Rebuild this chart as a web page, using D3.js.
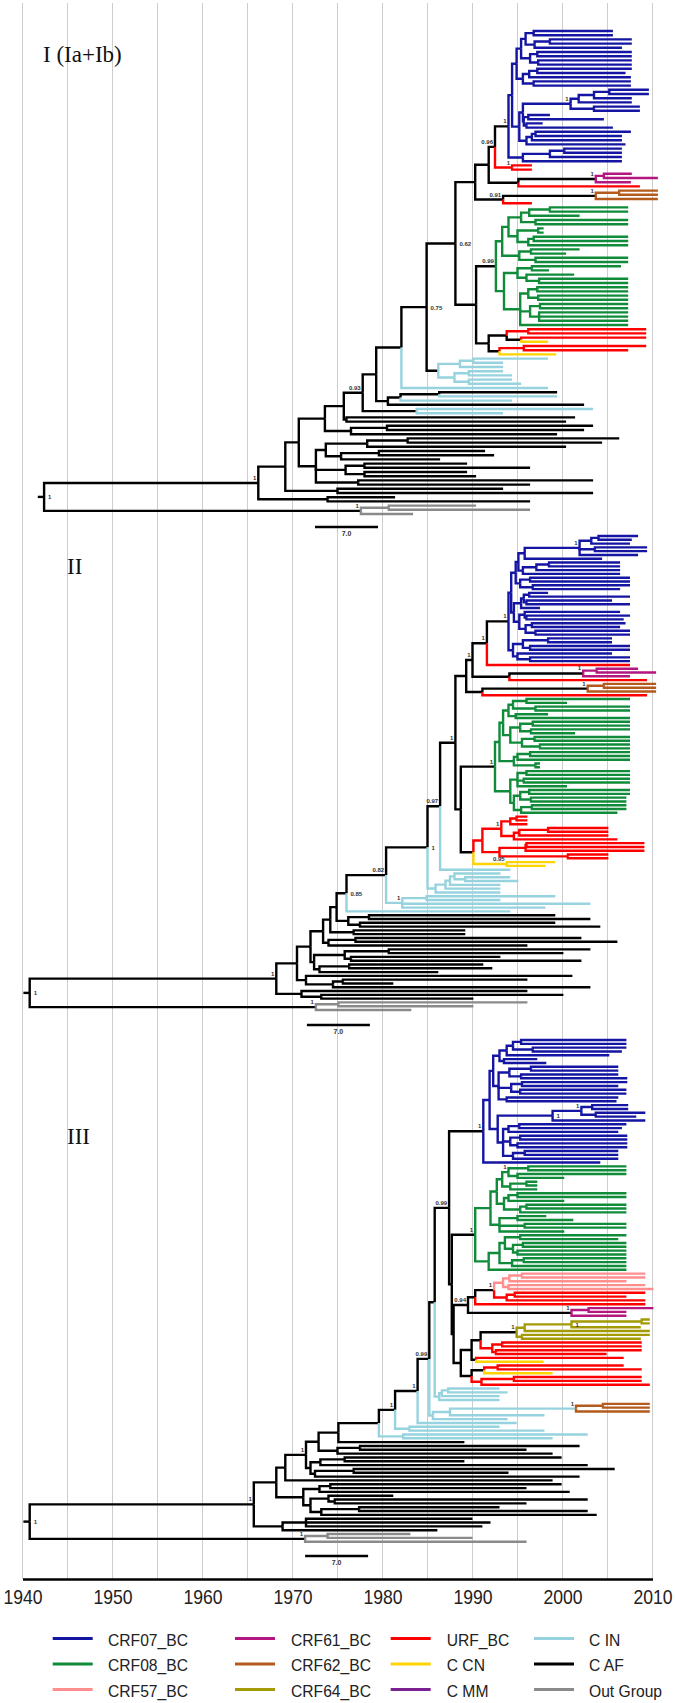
<!DOCTYPE html>
<html><head><meta charset="utf-8">
<script src="https://cdn.jsdelivr.net/npm/d3@7"></script>
<style>body{margin:0;background:#fff}svg{display:block}</style>
</head><body>
<svg id="chart" width="675" height="1703"></svg>
<script>
// ---------------- DATA ----------------
// Axis / grid
const tickYears = [1940, 1950, 1960, 1970, 1980, 1990, 2000, 2010];
const gridYears = [1940, 1945, 1950, 1955, 1960, 1965, 1970, 1975, 1980, 1985, 1990, 1995, 2000, 2005, 2010];

// Legend
const legendNames = ["CRF07_BC", "CRF08_BC", "CRF57_BC", "CRF61_BC", "CRF62_BC", "CRF64_BC", "URF_BC", "C CN", "C MM", "C IN", "C AF", "Out Group"];
const legendCodes = ["b", "g", "p", "m", "o", "y", "r", "c", "v", "i", "k", "x"];
const legendColors = ["#1515a3", "#0f8b3a", "#ff8f8f", "#b3177f", "#b35a1c", "#a39a06", "#ff0000", "#ffd400", "#7b2090", "#96d3de", "#000000", "#8a8a8a"];

// Trees: leaf = <group code><tip year>, internal = (children)<node year>
// [s] support label left, {s} support label right, ^c stem colour, :c node colour
// ---- Panel I ----
const I_A1 = "((b2005.6,b2005.6)1996.8,((b2007.7,b2007.7)1998.6,b2006.6)1996.9)1995.9";
const I_A2 = "((b2007.7,b2007.7)1997.2,(b2007.7,b2007.7)1997.3)1996.4";
const I_A3 = "(((b2007.7,b2007.0)1997.2,b2007.6)1996.3,(b2007.6,b2007.6)1996.8)1995.6";
const I_B1 = "((((b2009.6,b2009.6)2005.2,b2007.7)2003.5,b2007.7)2001.8,(b2008.6,b2008.6)2003.5)2000.9[1]";
const I_B2 = "((b1998.6,b2004.6)1996.2,(b1997.8,b2005.6)1996.0)1995.7";
const I_C1 = "(((b2007.6,b2006.6)1997.0,b2006.6)1996.6,b2007.0)1996.0";
const I_C2 = "(((b2006.6,b2006.6)2000.2,b2006.6)1998.6,b2006.6)1995.6";
const BLUE_I = `((((${I_A1},${I_A2})1995.4,${I_A3})1994.9,((${I_B1},${I_B2})1995.6,${I_C1})1995.2)1994.4,${I_C2})1994.0[1]^k`;
const I_G1 = "(((g2007.3,g2007.3)1998.6,g2001.9)1996.3,(g2007.3,g2007.3)1997.0)1995.4";
const I_G2 = "((g1997.9,g1997.9)1997.3,((g2007.3,g2007.3)1996.8,g2007.3)1996.2)1995.0";
const I_G3 = "((g2001.9,g2000.4)1996.5,(g2007.3,g2007.3)1997.0)1995.2";
const I_G4 = "((g2006.5,g1998.5)1996.6,(g2001.3,(g2007.3,g2007.3)1997.4)1996.0)1995.0";
const I_G5 = "(((g2007.3,g2007.3)1997.2,(g2007.3,g2007.3)1997.3)1996.2,((g2007.3,g2007.3)1997.5,(g2007.3,g2007.3,g2007.3)1997.4)1996.4,g2007.3)1995.3";
const GREEN_I = `(((${I_G1},${I_G2})1994.0,${I_G3})1993.3,(${I_G4},${I_G5})1993.5)1992.6[0.99]^k`;
const RY_I = "(((r2009.3,r2009.3)1996.2,(r2009.3,c1998.4)1995.4)1993.8,((r2009.3,r2007.3)1995.7,c1999.3)1993.0)1991.8";
const CIN_I = "(((i1998.4,i1993.4)1990.1,i1993.4)1988.6,((i1993.4,i1994.4)1989.6,(i1994.4,i1995.4)1989.6)1988.0)1986.2^k";
const I_top = `((((${BLUE_I},(r1996.6,r1996.6)1994.4[1])1992.5[0.96],(((m2007.7,m2010.6)2004.6,m2007.6)2003.7[1]^k,r2008.6)1995.1)1991.8,(((o2010.6,o2010.6)2006.3,o2010.6)2003.7[1]^k,r1996.6)1993.4[0.91])1990.3,(${GREEN_I},${RY_I})1990.4)1988.1{0.62}`;
const I_mid = `((((${I_top},${CIN_I})1984.9{0.75},i1998.4)1982.1,(((k1999.4,i1999.4)1986.3,i1994.4)1982.0,k2002.4)1980.6)1979.3,(i2003.4,i1993.4)1983.8^k)1977.8[0.93]`;
const I_low = "((((k2006.3,k2004.4)1982.8,k2000.4)1978.3,((k1991.4,k1992.4)1979.6,k1986.4)1975.4)1973.7,((k1989.4,k1996.4)1978.0,(k1989.4,k1990.4)1978.0)1975.9,(k2003.4,k1996.4)1977.3)1972.6";
const TREE_I = `((((((${I_mid},(k2001.4,k2000.4)1976.0)1975.7,((k2003.4,k2002.4)1980.5,k1999.4)1976.5)1973.6,${I_low})1970.7,(k1993.4,k2003.4)1975.0)1969.2,(k1981.4,k1996.4)1973.9)1966.2[1],((x1990.4,x1996.4)1980.7,x1983.4)1977.6[1]^k)1942.4{1}`;

// ---- Panel II ----
const II_T1 = "((((b2008.4,b2007.7)2004.0,b2007.5)2003.2,(b2009.4,b2009.4)2003.6,b2008.4)2001.9[1],b2004.4)1995.8";
const II_T2 = "(((b2006.4,b2006.4)1998.5,b2006.4)1997.1,b2006.4)1995.6";
const II_T3 = "((b2007.5,b2007.5)1996.4,(b2007.5,b2006.4)1996.7)1995.3";
const II_T4 = "(((b1998.4,b2007.5)1996.3,(b2005.5,b2007.5)1996.0)1995.7,b1997.5)1995.4";
const II_T5 = "((b2006.4,(b2007.5,b2006.8)1996.0)1995.8,((b2007.0,b2006.4)1996.6,(b2007.5,b2007.5)1997.0)1995.9)1995.2";
const II_T6 = "(((b2005.5,b2005.5)1998.4,(b2007.5,b2007.5)1996.4)1995.6,(b2005.5,(b2007.5,b2007.5)1996.4)1995.0)1994.5";
const BLUE_II = `((((${II_T1},${II_T2})1995.1,${II_T3})1994.8,(${II_T4},${II_T5})1994.6)1994.3,${II_T6})1994.0[1]^k`;
const II_H1 = "(((g2007.5,g2000.5)1996.0,(g2007.5,g2007.5)1997.0)1994.5,(g1998.4,g2007.5)1994.8)1994.0";
const II_H2 = "(((g2007.5,g2007.5)1996.7,(g2007.5,g2001.4)1996.5)1995.3,((g2007.5,g2007.5)1996.9,(g2007.5,g2007.5)1997.5)1995.5)1994.2";
const II_H3 = "(((g2007.5,g2007.5)1996.4,g2007.5)1995.0,(g1997.5,g1997.5)1997.0)1994.6";
const II_H4 = "((g2007.5,g2007.5)1996.0,(g2007.5,g2007.5)1995.7,g2000.5)1995.0";
const II_H5 = "(((g2007.5,g2007.5)1996.3,(g2007.1,g2007.1)1996.5)1995.3,((g2007.1,g2007.1)1996.6,g2006.1)1995.4)1994.6";
const GREEN_II = `(((${II_H1},${II_H2})1993.4,${II_H3})1993.0,(${II_H4},${II_H5})1994.2)1992.5[1]^k`;
const II_RU = "(((r1996.1,r1996.1)1994.9,r1996.1)1994.2,(((r2005.1,r2005.1)1998.4,r2005.1)1995.2,r2006.1)1994.6)1993.2[1]";
const II_RL = "(((r2009.1,r2009.1)1996.0,r2009.1)1995.9,(r2005.1,r2005.1)2000.6)1993.0";
const CIN_IIa = "((((i1993.1,(i1994.2,i1995.1)1989.2)1988.0,i1993.1)1987.5,i1993.1)1987.0,i1993.1)1985.9";
const CIN_IIb = "((i1999.2,i1993.1)1984.9,i2003.1,i1998.1)1982.2[1]";
const II_top = `((((${BLUE_II},r2007.5)1991.6[1],(((m2008.4,m2010.4)2003.8,m2007.5)2002.3[1]^k,r2009.4)1994.1)1990.0[1],(((o2010.4,o2010.4)2004.6,o2010.4)2002.8[1]^k,r2009.4)1991.1)1989.3,(${GREEN_II},((${II_RU},${II_RL})1991.1,(c1999.2,c1998.1)1993.8[0.95])1990.1)1988.7)1988.1[1]`;
const II_mid = `((((${II_top},i1994.2)1986.4[0.97],${CIN_IIa})1985.0{1},${CIN_IIb})1980.4[0.82],i1994.2)1976.0{0.85}`;
const II_n735 = "(((k2003.1,k2000.1)1980.7,(k1993.1,k2002.1)1976.5)1975.8,((k1991.2,k1992.2)1976.3,k1986.2)1973.0)1972.4";
const II_Q6 = "(k2001.1,((k1996.1,k1981.2)1975.6,k2003.1)1974.5)1971.5";
const II_Q7 = "(k1996.1,(k2000.1,k1990.1)1973.2)1971.0";
const TREE_II = `(((((((${II_mid},((k1999.2,k2003.1)1978.5,(k1999.2,k2004.2)1977.5)1976.2)1974.9,(k1989.2,k1989.2)1976.8)1974.2,((k2002.1,k2006.1)1977.0,k1996.1)1974.0)1973.4,${II_n735})1972.0,${II_Q6})1970.5,${II_Q7})1968.2[1],((x1996.1,x1990.1)1975.1,x1983.2)1972.6[1]^k)1940.8{1}`;

// ---- Panel III ----
const III_U1 = "((((b2007.1,b2007.1)1995.4,(b2007.1,b2006.6)1996.7)1994.5,b2005.2)1993.8,(b1997.2,b1998.2)1993.5)1993.0";
const III_U2 = "(((b2006.2,b2006.2)1996.5,(b2006.2,b2007.2)1995.4)1994.1,((b2007.2,b2006.2)1995.5,(b2007.1,b2007.1)1995.3)1994.3,(b2006.2,b2006.0)1993.8)1992.9";
const III_U3 = "(((b2007.3,b2007.3)2003.3,(b2009.2,b2008.2)2003.7)2002.1[1],b2009.2)1998.9{1}";
const III_U4 = "(((b2007.1,b2006.6)1995.2,b2006.2)1994.0,((b2007.2,b2007.2)1995.3,(b2007.2,b2007.2)1995.0)1994.2,((b2006.2,b2006.2)1995.8,b2006.2)1994.5)1993.4";
const BLUE_III = `(((${III_U1},${III_U2})1992.3,(${III_U3},${III_U4})1992.8)1991.9,b2004.2)1991.2[1]^k`;
const III_V1 = "(((g2007.1,g2007.1)1996.2,(g2007.1,g2000.2)1995.0)1994.0[1],((g1997.2,g1997.2)1996.0,g1997.2)1994.2)1993.3";
const III_V2 = "(((g2007.1,g2007.1)1995.0,g2000.2)1994.0,((g2007.1,g2007.1)1996.0,g2007.1)1995.3)1993.5";
const III_V3 = "((g1998.2,g2001.2)1995.0,(g2007.1,g2007.1)1995.8,g2000.2)1993.0";
const III_V4 = "((((g2007.1,g2006.2)1995.3,((g2007.1,g2007.1)1995.6,(g2007.1,g2007.1)1995.0)1994.5)1993.6,((g2007.1,g2007.1)1995.7,g2007.1)1994.4)1993.0,g2007.1)1991.8";
const GREEN_III = `(((${III_V1},${III_V2})1992.7,${III_V3})1992.0,${III_V4})1990.3[1]^k`;
const PINK_III = "(((p2009.2,p2009.2)1995.5,p2007.1)1994.1,(p2009.2,p2010.1)1994.0)1993.4";
const OLIVE_III = "((((y2009.7,y2009.7)2008.8,y2008.7)2001.0{1},y2009.7)1995.8,(y2009.7,y2008.7)1995.5)1994.9[1]^k";
const III_n205 = `(((${PINK_III},((r2009.2,r2007.1)1994.7,r2009.2)1993.8)1992.4[1],r2009.2)1990.3,((m2010.1,m2007.1)2002.9,m2007.1)2001.0[1]^k)1989.5[0.94]`;
const III_RY = `(((${OLIVE_III},((r2008.8,r2008.8)1993.3,(r2008.8,r2004.9)1992.6)1992.2)1990.9,(r2006.8,c1997.9)1990.4)1989.9,(((r2006.8,r2008.8)1992.8,c1998.9)1991.3,((r2008.8,r2008.8)1994.6,r2009.7)1991.0)1989.9)1988.7`;
const CIN_IIItop = "(((i1993.0,i1993.9)1987.3,i1993.0)1986.6,i1993.0)1986.3";
const CIN_IIImid = "((((o2009.7,o2009.7)2004.5,o2009.7)2001.5[1]^i,i1998.0)1987.5:i,i1993.9)1985.6:i";
const III_top = `(((${BLUE_III},(${GREEN_III},(${III_n205},${III_RY})1987.9)1987.7)1987.4[0.99],${CIN_IIItop})1985.8,${CIN_IIImid})1985.2[0.99]`;
const III_K2 = "(((k1999.9,k1989.1)1975.8,k2002.8)1973.1,((k2005.8,k1994.0)1976.8,k2001.9)1972.5)1972.0";
const III_K3 = "(((k1999.9,k1996.0)1974.2,k2000.8)1973.0,((k1981.2,(k2002.8,k1996.0)1974.7)1974.0,((k1993.0,k2002.8)1977.4,k2003.8)1973.2)1972.0)1971.2";
const TREE_III = `((((((((((${III_top},i1994.9)1983.9[1],(i1993.0,i1998.0)1983.0)1981.4[1],(i2002.8,i1998.9)1982.3)1979.6,k1989.1)1975.1,((k2001.9,k1996.0)1977.5,k1998.9)1975.0)1972.9,${III_K2})1971.5[1],k1998.9)1969.2,${III_K3})1968.2,((k1990.0,k1992.0,k1991.1)1971.5,k1986.1)1968.9)1965.7[1],((x1983.1,x1990.0)1973.9,x1996.0)1971.4[1]^k)1940.8{1}`;

// Panel meta (root stem origin year, scale-bar start year)
const panelTrees = [TREE_I, TREE_II, TREE_III];
const panelTitles = ["I (Ia+Ib)", "II", "III"];
const rootOrigins = [1941.7, 1940.1, 1940.1];
const scaleBarStart = [1972.5, 1971.6, 1971.4];
const scaleBarLength = 7.0;

// ---------------- LAYOUT ----------------
const layout = [
  {top: 31, bottom: 514, titleX: 43, titleY: 62, barY: 527},
  {top: 536, bottom: 1010, titleX: 67, titleY: 574, barY: 1025},
  {top: 1040, bottom: 1541.7, titleX: 67, titleY: 1144, barY: 1556}
];
const color = {};
legendCodes.forEach((c, i) => color[c] = legendColors[i]);

function parseTree(src) {
  const s = src.replace(/\s+/g, "");
  let i = 0;
  function num() { const st = i; while (i < s.length && /[0-9.]/.test(s[i])) i++; return +s.slice(st, i); }
  function node() {
    const n = {};
    if (s[i] === "(") {
      i++; n.children = [node()];
      while (s[i] === ",") { i++; n.children.push(node()); }
      i++; n.year = num();
    } else { n.code = s[i]; i++; n.year = num(); }
    while (i < s.length && "[{^:".includes(s[i])) {
      const c = s[i];
      if (c === "[" || c === "{") {
        const e = s.indexOf(c === "[" ? "]" : "}", i);
        n.label = s.slice(i + 1, e); n.labelRight = (c === "{"); i = e + 1;
      } else if (c === "^") { n.stem = s[i + 1]; i += 2; }
      else { n.code = s[i + 1]; i += 2; }
    }
    return n;
  }
  return node();
}

const svg = d3.select("#chart");
const x = d3.scaleLinear().domain([1940, 2010]).range([22.5, 652.5]);
const axisY = 1579;

// grid
svg.append("g").selectAll("line").data(gridYears).join("line")
  .attr("x1", d => x(d)).attr("x2", d => x(d))
  .attr("y1", 3).attr("y2", axisY)
  .attr("stroke", "#cdcdcd").attr("stroke-width", 1);

panelTrees.forEach((str, pi) => {
  const L = layout[pi];
  const root = d3.hierarchy(parseTree(str));
  const leaves = root.leaves();
  const y = d3.scaleLinear().domain([0, leaves.length - 1]).range([L.top, L.bottom]);
  leaves.forEach((l, k) => l.y = y(k));
  root.eachAfter(n => {
    if (n.children) {
      n.y = (n.children[0].y + n.children[n.children.length - 1].y) / 2;
      if (!n.data.code) {
        const set = new Set(n.children.map(c => c.data.code));
        n.data.code = set.size === 1 ? [...set][0] : "k";
      }
    }
  });
  const g = svg.append("g");
  // root stem
  g.append("line")
    .attr("x1", x(rootOrigins[pi])).attr("x2", x(root.data.year))
    .attr("y1", root.y).attr("y2", root.y)
    .attr("stroke", "#000").attr("stroke-width", 2.4);
  const links = root.descendants().filter(n => n.parent);
  // black first, coloured on top
  links.sort((a, b) => ((a.data.stem || a.data.code) === "k" ? 0 : 1) - ((b.data.stem || b.data.code) === "k" ? 0 : 1));
  g.selectAll("path.br").data(links).join("path")
    .attr("class", "br")
    .attr("d", n => `M${x(n.parent.data.year)},${n.parent.y}V${n.y}H${x(n.data.year)}`)
    .attr("fill", "none")
    .attr("stroke", n => color[n.data.stem || n.data.code])
    .attr("stroke-width", 2.4)
    .attr("stroke-linejoin", "miter");
  // support labels
  const lab = root.descendants().filter(n => n.data.label);
  g.selectAll("text.sup").data(lab).join("text")
    .attr("class", "sup")
    .attr("x", n => n.data.labelRight ? x(n.data.year) + 4 : x(n.data.year) - 2)
    .attr("y", n => n.data.labelRight ? n.y + 2.5 : n.y - 3)
    .attr("text-anchor", n => n.data.labelRight ? "start" : "end")
    .attr("font-family", "Liberation Sans, Arial, sans-serif")
    .attr("font-size", 6).attr("font-weight", "bold").attr("fill", "#333")
    .text(n => n.data.label);
  // title
  g.append("text").attr("x", L.titleX).attr("y", L.titleY)
    .attr("font-family", "Liberation Serif, Times New Roman, serif")
    .attr("font-size", 23).attr("fill", "#111").text(panelTitles[pi]);
  // scale bar
  const b0 = scaleBarStart[pi];
  g.append("line").attr("x1", x(b0)).attr("x2", x(b0 + scaleBarLength))
    .attr("y1", L.barY).attr("y2", L.barY).attr("stroke", "#000").attr("stroke-width", 2.4);
  g.append("text").attr("x", x(b0 + scaleBarLength / 2)).attr("y", L.barY + 9)
    .attr("text-anchor", "middle").attr("font-family", "Liberation Sans, Arial, sans-serif")
    .attr("font-size", 7).attr("font-weight", "bold").attr("fill", "#333")
    .text(scaleBarLength.toFixed(1));
});

// axis
const axis = d3.axisBottom(x).tickValues(tickYears).tickSize(0).tickPadding(10.5).tickFormat(d3.format("d"));
const ag = svg.append("g").attr("transform", `translate(0,${axisY})`).call(axis);
ag.select(".domain").attr("stroke", "#000").attr("stroke-width", 2.5);
ag.selectAll(".tick text")
  .attr("font-size", 20).attr("font-family", "Liberation Sans, Arial, sans-serif")
  .attr("fill", "#222").attr("transform", "scale(0.88,1)");

// legend
const colLineX = [52.7, 235, 390.7, 534];
const colTextX = [108, 291, 446.7, 589];
const rowY = [1638.5, 1664, 1689.5];
const lg = svg.append("g");
legendNames.forEach((name, k) => {
  const c = Math.floor(k / 3), r = k % 3;
  lg.append("line").attr("x1", colLineX[c]).attr("x2", colLineX[c] + 40)
    .attr("y1", rowY[r]).attr("y2", rowY[r])
    .attr("stroke", legendColors[k]).attr("stroke-width", 3);
  lg.append("text")
    .attr("transform", `translate(${colTextX[c]},${rowY[r] + 7}) scale(0.91,1)`)
    .attr("font-family", "Liberation Sans, Arial, sans-serif")
    .attr("font-size", 17.2).attr("fill", "#222").text(name);
});
</script>
</body></html>
